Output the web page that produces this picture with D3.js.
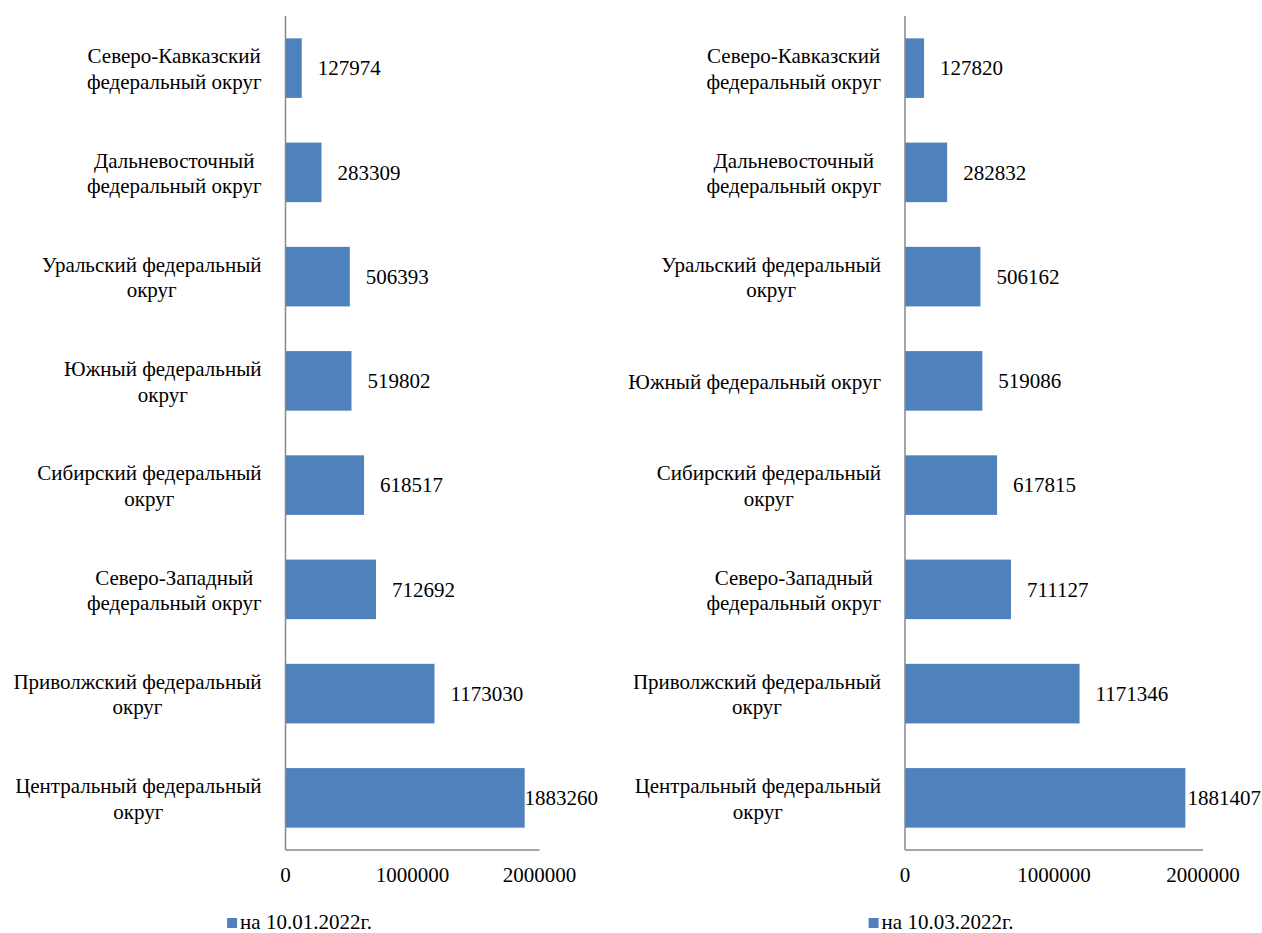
<!DOCTYPE html>
<html>
<head>
<meta charset="utf-8">
<script src="https://cdn.jsdelivr.net/npm/d3@7"></script>
<style>
  html, body { margin: 0; padding: 0; background: #fff; }
  svg { display: block; }
</style>
</head>
<body>
<svg id="chart" width="1262" height="933"></svg>
<script>
// Federal districts, listed top to bottom as they appear on the chart
const districts = [
  "Северо-Кавказский федеральный округ",
  "Дальневосточный федеральный округ",
  "Уральский федеральный округ",
  "Южный федеральный округ",
  "Сибирский федеральный округ",
  "Северо-Западный федеральный округ",
  "Приволжский федеральный округ",
  "Центральный федеральный округ"
];

// Category labels with their line breaks for each panel
const labelsJan = [
  "Северо-Кавказский\nфедеральный округ",
  "Дальневосточный\nфедеральный округ",
  "Уральский федеральный\nокруг",
  "Южный федеральный\nокруг",
  "Сибирский федеральный\nокруг",
  "Северо-Западный\nфедеральный округ",
  "Приволжский федеральный\nокруг",
  "Центральный федеральный\nокруг"
];
const labelsMar = [
  "Северо-Кавказский\nфедеральный округ",
  "Дальневосточный\nфедеральный округ",
  "Уральский федеральный\nокруг",
  "Южный федеральный округ",
  "Сибирский федеральный\nокруг",
  "Северо-Западный\nфедеральный округ",
  "Приволжский федеральный\nокруг",
  "Центральный федеральный\nокруг"
];

// Values on each date
const valuesJan = [127974, 283309, 506393, 519802, 618517, 712692, 1173030, 1883260];
const valuesMar = [127820, 282832, 506162, 519086, 617815, 711127, 1171346, 1881407];

const xTicks = [0, 1000000, 2000000];
const seriesNames = ["на 10.01.2022г.", "на 10.03.2022г."];

const barColor = "#4F81BD";
const axisColor = "#898989";
const fontFamily = "Liberation Serif";

const svg = d3.select("#chart");

// Shared text styling
function styled(sel) {
  return sel.style("font-family", fontFamily).style("font-size", "21px").attr("fill", "#000");
}

const panels = [
  { labels: labelsJan, values: valuesJan, name: seriesNames[0],
    area: [0, 599], plot: [285.5, 539.5] },
  { labels: labelsMar, values: valuesMar, name: seriesNames[1],
    area: [620, 1262], plot: [905, 1203] }
];

const plotTop = 16, plotBottom = 850;

panels.forEach(p => {
  const g = svg.append("g");

  const x = d3.scaleLinear().domain([0, 2000000]).range(p.plot);
  const y = d3.scaleBand()
    .domain(districts)
    .range([plotTop, plotBottom])
    .paddingInner(0.75 / 1.75)
    .paddingOuter(0.75 / 3.5);

  // Bars
  g.selectAll("rect.bar")
    .data(districts)
    .join("rect")
    .attr("class", "bar")
    .attr("x", x(0))
    .attr("y", d => y(d))
    .attr("width", (d, i) => x(p.values[i]) - x(0))
    .attr("height", y.bandwidth())
    .attr("fill", barColor);

  // Category axis (left) and value axis (bottom), line only
  g.append("line")
    .attr("x1", x(0)).attr("x2", x(0))
    .attr("y1", plotTop).attr("y2", plotBottom)
    .attr("stroke", axisColor).attr("stroke-width", 1.5);
  g.append("line")
    .attr("x1", x(0)).attr("x2", x(2000000))
    .attr("y1", plotBottom).attr("y2", plotBottom)
    .attr("stroke", axisColor).attr("stroke-width", 1.5);

  // Value tick labels
  styled(g.selectAll("text.tick")
    .data(xTicks)
    .join("text")
    .attr("class", "tick")
    .attr("x", d => x(d))
    .attr("y", 882)
    .attr("text-anchor", "middle")
    .text(d => d));

  // Category labels: centered lines, block right-aligned near the axis
  const labelRight = x(0) - 24;
  districts.forEach((d, i) => {
    const lines = p.labels[i].split("\n");
    const t = styled(g.append("text").attr("text-anchor", "middle"));
    const spans = lines.map(l => t.append("tspan").text(l));
    const maxW = d3.max(spans, s => s.node().getComputedTextLength());
    const cx = labelRight - maxW / 2;
    const cy = y(d) + y.bandwidth() / 2;
    const lh = 25.5;
    const first = cy - (lines.length - 1) * lh / 2 + 8;
    spans.forEach((s, k) => s.attr("x", cx).attr("y", first + k * lh));
  });

  // Value labels at the bar ends, kept inside the chart area
  districts.forEach((d, i) => {
    const v = p.values[i];
    const t = styled(g.append("text"))
      .attr("y", y(d) + y.bandwidth() / 2)
      .attr("dy", "0.35em")
      .text(v);
    const w = t.node().getComputedTextLength();
    t.attr("x", Math.min(x(v) + 16, p.area[1] - w - 1));
  });

  // Legend, centered under the chart area
  const lg = g.append("g");
  lg.append("rect")
    .attr("x", 0).attr("y", -11)
    .attr("width", 10).attr("height", 10)
    .attr("fill", barColor);
  const lt = styled(lg.append("text"))
    .attr("x", 13).attr("y", 0)
    .text(p.name);
  const lw = 13 + lt.node().getComputedTextLength();
  const cxA = (p.area[0] + p.area[1]) / 2;
  lg.attr("transform", `translate(${cxA - lw / 2},929)`);
});
</script>
</body>
</html>
